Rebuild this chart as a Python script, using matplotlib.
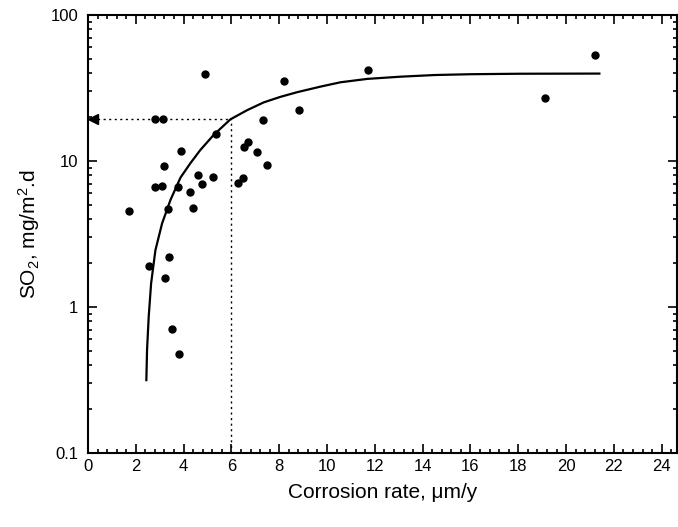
import matplotlib
matplotlib.use("Agg")
import matplotlib.pyplot as plt
from matplotlib.ticker import MultipleLocator, LogLocator, FixedLocator, FixedFormatter, NullFormatter

plt.rcParams['font.family'] = ['Liberation Sans', 'DejaVu Sans']
plt.rcParams['mathtext.fontset'] = 'custom'
plt.rcParams['mathtext.rm'] = 'Liberation Sans'
plt.rcParams['mathtext.it'] = 'Liberation Sans'

# measured data points
corrosion = [1.70, 4.91, 2.82, 3.13, 8.22, 11.70, 8.82, 7.31, 5.34, 3.89, 6.70, 6.52,
             7.09, 7.48, 3.20, 4.61, 5.25, 4.79, 2.81, 3.11, 3.78, 6.47, 6.29, 4.27,
             4.38, 3.35, 3.39, 2.57, 3.21, 3.50, 3.82, 21.22, 19.10]
so2 = [4.52, 39.3, 19.4, 19.4, 35.5, 42.2, 22.3, 19.0, 15.4, 11.8, 13.5, 12.4,
       11.5, 9.35, 9.25, 8.06, 7.76, 6.95, 6.61, 6.74, 6.67, 7.60, 7.03, 6.11,
       4.77, 4.67, 2.21, 1.90, 1.58, 0.71, 0.474, 53.2, 27.0]

# fitted curve
fit_x = [2.44, 2.47, 2.54, 2.64, 2.82, 3.10, 3.45, 3.87, 4.28, 4.70, 5.26, 5.96,
         6.66, 7.35, 8.05, 8.75, 9.72, 10.56, 11.68, 13.07, 14.5, 16.0, 18.09, 21.44]
fit_y = [0.31, 0.507, 0.859, 1.45, 2.45, 3.74, 5.41, 7.7, 9.64, 11.9, 15.1, 19.3,
         22.3, 25.2, 27.5, 29.6, 32.3, 34.6, 36.5, 37.8, 38.8, 39.3, 39.6, 39.7]

# reading guide
guide_x = 6.0
guide_y = 19.4

x_ticks = [0, 2, 4, 6, 8, 10, 12, 14, 16, 18, 20, 22, 24]
y_ticks = [0.1, 1, 10, 100]
y_tick_labels = ['0.1', '1', '10', '100']

W, H = 678, 527
fig = plt.figure(figsize=(W / 100, H / 100), dpi=100)
ax = fig.add_axes([88 / W, (H - 453) / H, (676.5 - 88) / W, (453 - 15) / H])

ax.set_yscale('log')
ax.set_xlim(0, 24.62)
ax.set_ylim(0.1, 100)

ax.plot(fit_x, fit_y, color='black', lw=1.6, solid_capstyle='butt', solid_joinstyle='round')
ax.plot(corrosion, so2, 'o', color='black', ms=5, mec='black')

ax.plot([0.15, guide_x], [guide_y, guide_y], color='black', lw=1, ls=(0, (1.5, 2.5)))
ax.plot([guide_x, guide_x], [0.1, guide_y], color='black', lw=1, ls=(0, (1.5, 2.5)))
ax.plot([0.2], [guide_y], marker='<', color='black', ms=6.5, clip_on=False)

ax.xaxis.set_major_locator(FixedLocator(x_ticks))
ax.xaxis.set_minor_locator(MultipleLocator(0.4))
ax.yaxis.set_major_locator(FixedLocator(y_ticks))
ax.yaxis.set_major_formatter(FixedFormatter(y_tick_labels))
ax.yaxis.set_minor_locator(LogLocator(base=10, subs=range(2, 10)))
ax.yaxis.set_minor_formatter(NullFormatter())

for s in ax.spines.values():
    s.set_linewidth(1.5)

ax.tick_params(which='both', direction='in', top=True, right=True, width=1.2)
ax.tick_params(which='major', length=6.5)
ax.tick_params(which='minor', length=3)
ax.tick_params(axis='x', which='major', labelsize=12, pad=4)
ax.tick_params(axis='y', which='major', labelsize=12, pad=7)

ax.set_xlabel('Corrosion rate, \u03bcm/y', fontsize=15, labelpad=7)
ax.set_ylabel('SO$_2$, mg/m$^2$.d', fontsize=15, labelpad=6)

fig.savefig('out.png', dpi=100)
